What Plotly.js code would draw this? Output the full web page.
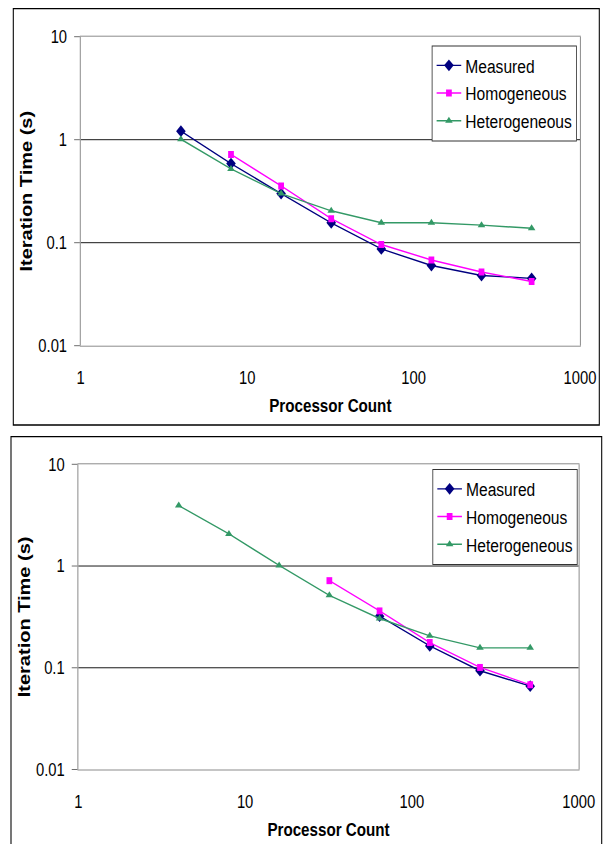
<!DOCTYPE html>
<html>
<head>
<meta charset="utf-8">
<script src="https://cdn.plot.ly/plotly-3.0.1.min.js"></script>
<style>
  html, body { margin: 0; padding: 0; background: #fff; overflow: hidden; }
  #wrap { width: 603px; height: 844px; overflow: hidden; }
  #chart { width: 735px; height: 844px; transform: scaleX(0.82041); transform-origin: 0 0; }
</style>
</head>
<body>
<div id="wrap"><div id="chart"></div></div>
<script>
// ---------- data ----------
const procCounts = [4, 8, 16, 32, 64, 128, 256, 512];

const measured1      = [1.21, 0.586, 0.30, 0.156, 0.087, 0.060, 0.048, 0.045];
const homogeneous1   = [null, 0.72, 0.356, 0.171, 0.096, 0.068, 0.052, 0.042];
const heterogeneous1 = [1.01, 0.52, 0.30, 0.204, 0.156, 0.156, 0.148, 0.138];

const measured2      = [null, null, null, null, 0.321, 0.164, 0.0935, 0.066];
const homogeneous2   = [null, null, null, 0.718, 0.362, 0.177, 0.1007, 0.068];
const heterogeneous2 = [3.93, 2.07, 1.015, 0.515, 0.305, 0.206, 0.157, 0.157];

const seriesNames = ["Measured", "Homogeneous", "Heterogeneous"];
const xTickVals = [1, 10, 100, 1000];
const xTickText = ["1", "10", "100", "1000"];
const yTickVals = [0.01, 0.1, 1, 10];
const yTickText = ["0.01", "0.1", "1", "10"];

// ---------- style ----------
const FONT = "Liberation Sans, Arial, sans-serif";
const H = 844, WV = 603;
const styles = [
  { color: "#000080", symbol: "diamond", size: 9 },
  { color: "#FF00FF", symbol: "square", size: 7 },
  { color: "#339966", symbol: "triangle-up", size: 8 }
];

function mk(name, ys, idx, xa, ya, lg) {
  const s = styles[idx];
  return {
    type: "scatter", mode: "lines+markers", name: name,
    x: procCounts, y: ys, xaxis: xa, yaxis: ya, legend: lg,
    legendgroup: lg + name,
    line: { color: s.color, width: 1.4 },
    marker: { color: s.color, symbol: s.symbol, size: s.size },
    connectgaps: false, hoverinfo: "x+y+name"
  };
}

const data = [
  mk(seriesNames[0], measured1, 0, "x", "y", "legend"),
  mk(seriesNames[1], homogeneous1, 1, "x", "y", "legend"),
  mk(seriesNames[2], heterogeneous1, 2, "x", "y", "legend"),
  mk(seriesNames[0], measured2, 0, "x2", "y2", "legend2"),
  mk(seriesNames[1], homogeneous2, 1, "x2", "y2", "legend2"),
  mk(seriesNames[2], heterogeneous2, 2, "x2", "y2", "legend2")
];

function px(x) { return x / WV; }
function py(y) { return (H - y) / H; }

function xAxis(domain, anchor) {
  return {
    type: "log", range: [0, 3], domain: domain, anchor: anchor,
    showgrid: false, zeroline: false,
    showline: true, linecolor: "#808080", linewidth: 1, mirror: true,
    ticks: "", tickvals: xTickVals, ticktext: xTickText,
    tickfont: { family: FONT, size: 18, color: "#000" },
    ticklabelstandoff: 16,
    title: { text: "Processor Count", standoff: 11,
             font: { family: FONT, size: 18.5, color: "#000", weight: "bold" } }
  };
}
function yAxis(domain, anchor) {
  return {
    type: "log", range: [-2, 1], domain: domain, anchor: anchor,
    showgrid: true, gridcolor: "#000", gridwidth: 1, zeroline: false,
    showline: true, linecolor: "#808080", linewidth: 1, mirror: true,
    ticks: "outside", ticklen: 7, tickcolor: "#606060", tickwidth: 1,
    tickvals: yTickVals, ticktext: yTickText,
    tickfont: { family: FONT, size: 18, color: "#000" },
    ticklabelstandoff: 5,
    title: { text: "Iteration Time (s)", standoff: 1,
             font: { family: FONT, size: 20, color: "#000", weight: "bold" } }
  };
}

// x-axis tick marks hanging from the y = 1 crossing line (Excel style)
const tickShapes = [];
[["x", "y"], ["x2", "y2"]].forEach(function (r) {
  xTickVals.slice(1).forEach(function (t) {
    tickShapes.push({
      type: "line", xref: r[0], yref: r[1],
      ysizemode: "pixel", yanchor: 1,
      x0: t, x1: t, y0: 0, y1: -6,
      line: { color: "#000", width: 1 }
    });
  });
});

const borderShapes = [
  { type: "rect", xref: "paper", yref: "paper",
    x0: px(13.3), x1: px(599.3), y0: py(425), y1: py(8.7),
    line: { color: "#000", width: 1.3 } },
  { type: "rect", xref: "paper", yref: "paper",
    x0: px(11), x1: px(601.7), y0: py(848), y1: py(436.7),
    line: { color: "#000", width: 1.3 } }
];

function legendAt(x, y) {
  return {
    x: x, y: y, xanchor: "left", yanchor: "top",
    bgcolor: "#fff", bordercolor: "#333", borderwidth: 1,
    font: { family: FONT, size: 19, color: "#000" },
    traceorder: "grouped", tracegroupgap: 0, itemwidth: 30
  };
}

const layout = {
  width: 735, height: 844,
  margin: { l: 0, r: 0, t: 0, b: 0 },
  paper_bgcolor: "#fff", plot_bgcolor: "#fff",
  font: { family: FONT, color: "#000" },
  showlegend: true,
  xaxis: xAxis([px(80.7), px(580)], "y"),
  yaxis: yAxis([py(345.7), py(36.7)], "x"),
  xaxis2: xAxis([px(78.3), px(578.7)], "y2"),
  yaxis2: yAxis([py(769.5), py(464.3)], "x2"),
  legend: legendAt(px(431.7), py(45.5)),
  legend2: legendAt(px(432.4), py(469)),
  shapes: borderShapes.concat(tickShapes)
};

Plotly.newPlot("chart", data, layout, { staticPlot: true, displayModeBar: false });
</script>
</body>
</html>
